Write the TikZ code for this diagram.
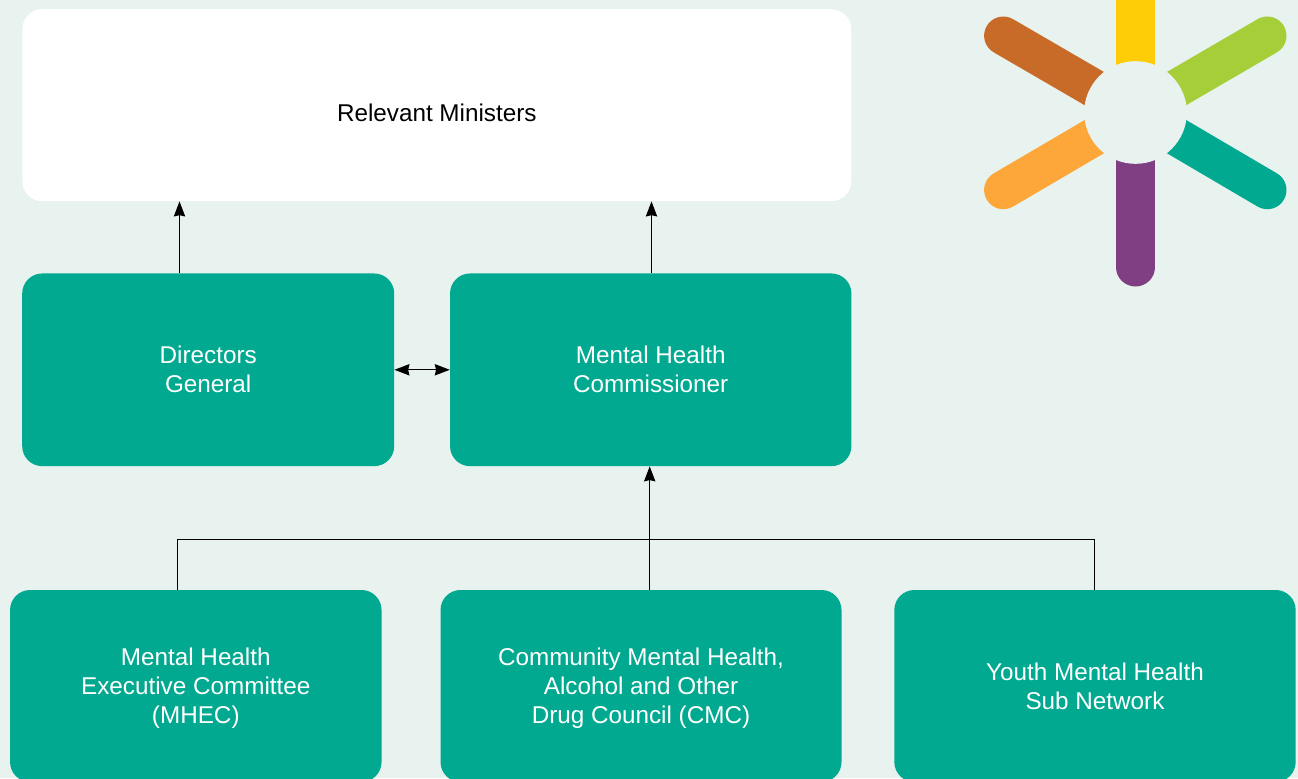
\documentclass[tikz,border=0pt]{standalone}
\usepackage{fontspec}
\setmainfont{Liberation Sans}
\usetikzlibrary{arrows.meta}
\definecolor{pagebg}{HTML}{E8F2EE}
\definecolor{boxteal}{HTML}{00A98F}
\definecolor{spbrown}{HTML}{C96B28}
\definecolor{spyellow}{HTML}{FFCD07}
\definecolor{spgreen}{HTML}{A6CE39}
\definecolor{sporange}{HTML}{FDA63A}
\definecolor{sppurple}{HTML}{803F82}
\tikzset{
  x=0.75pt,y=-0.75pt,
  basebox/.style={rounded corners=15pt,inner sep=0pt,align=center,
    font=\fontsize{18.2}{21.75}\selectfont},
  whitebox/.style={basebox,fill=white,text=black},
  tealbox/.style={basebox,fill=boxteal,text=white},
  link/.style={line width=0.75pt,draw=black},
  tip/.style={-{Stealth[length=11.25pt,width=8.5pt,inset=1pt]}},
  bothtips/.style={{Stealth[length=11.25pt,width=8.5pt,inset=1pt]}-{Stealth[length=11.25pt,width=8.5pt,inset=1pt]}},
  spoke/.style={line width=28.8pt,line cap=round},
}
\begin{document}
\begin{tikzpicture}
\useasboundingbox (0,0) rectangle (1298,778);
\clip (0,0) rectangle (1298,778);
\fill[pagebg] (0,0) rectangle (1298,778);

% boxes
\node[whitebox,minimum width=621.75pt,minimum height=144pt] (rm) at (436.8,105.2) {\rule{0pt}{24.3pt}Relevant Ministers};
\node[tealbox,minimum width=279pt,minimum height=144.5pt] (dg) at (208.2,369.8) {Directors\\General};
\node[tealbox,minimum width=301pt,minimum height=144.5pt] (mhc) at (650.7,369.8) {Mental Health\\Commissioner};
\node[tealbox,minimum width=278.6pt,minimum height=144pt] (mhec) at (195.8,686) {\rule{0pt}{16.4pt}Mental Health\\Executive Committee\\(MHEC)};
\node[tealbox,minimum width=300.75pt,minimum height=144pt] (cmc) at (641,686) {\rule{0pt}{16.4pt}Community Mental Health,\\Alcohol and Other\\Drug Council (CMC)};
\node[tealbox,minimum width=301pt,minimum height=144pt] (ymh) at (1095,686) {\rule{0pt}{14.4pt}Youth Mental Health\\Sub Network};

% connector positions
\coordinate (dgup) at (179.5,273);
\coordinate (mhcup) at (651.5,273);
\coordinate (busy) at (650,539.8);
\coordinate (mhecup) at (177.8,590);
\coordinate (cmcup) at (649.7,590);
\coordinate (ymhup) at (1094.5,590);

% connectors
\draw[link,tip] (dgup |- dg.north) -- (dgup |- rm.south);
\draw[link,tip] (mhcup |- mhc.north) -- (mhcup |- rm.south);
\draw[link,bothtips] (dg.east) -- (mhc.west);
\draw[link,tip] (cmcup |- cmc.north) -- (cmcup |- mhc.south);
\draw[link] (mhecup |- mhec.north) -- (mhecup |- busy) -- (ymhup |- busy) -- (ymhup |- ymh.north);

% logo
\coordinate (hub) at (1135.5,112.5);
\draw[spoke,spbrown] (hub) -- (1003.3,35.7);
\draw[spoke,spgreen] (hub) -- (1267.3,35.7);
\draw[spoke,sporange] (hub) -- (1003.3,190);
\draw[spoke,boxteal] (hub) -- (1267.3,190);
\draw[spoke,spyellow] (hub) -- (1135.5,-60);
\draw[spoke,sppurple] (hub) -- (1135.5,267.3);
\fill[pagebg] (hub) circle[radius=38.5pt];
\end{tikzpicture}
\end{document}
